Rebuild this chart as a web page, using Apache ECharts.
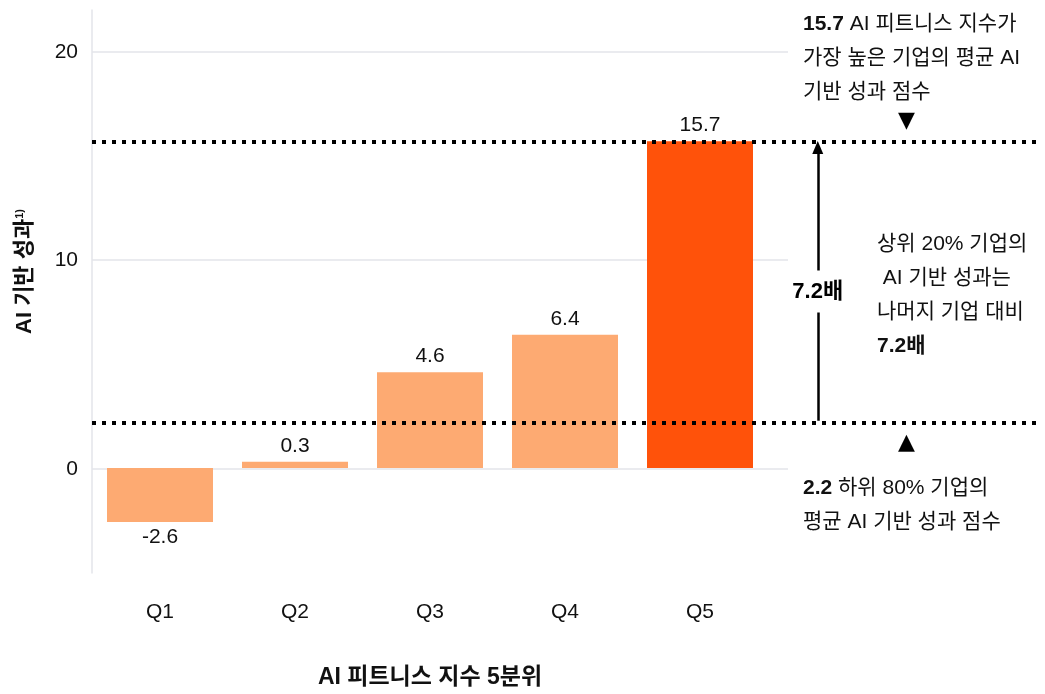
<!DOCTYPE html>
<html>
<head>
<meta charset="utf-8">
<script src="https://cdn.jsdelivr.net/npm/echarts@6/dist/echarts.min.js"></script>
<style>
  html, body { margin: 0; padding: 0; background: #fff; }
  #chart { width: 1045px; height: 694px; }
</style>
</head>
<body>
<div id="chart"></div>
<script>
// ---- data ----
const categories = ['Q1', 'Q2', 'Q3', 'Q4', 'Q5'];
const values = [-2.6, 0.3, 4.6, 6.4, 15.7];
const yTicks = [0, 10, 20];
const topAvg = 15.7;     // Q5 average
const bottomAvg = 2.2;   // Q1-Q4 average
const ratioText = '7.2배';
const xName = 'AI 피트니스 지수 5분위';
const yName = 'AI 기반 성과';

const FONT = "'Liberation Sans', 'Noto Sans CJK KR', sans-serif";
const Y_MIN = -5, Y_MAX = 22;
const GRID_TOP = 10, GRID_BOTTOM = 121;
const LIGHT = '#FDAA72', STRONG = '#FF520A';
const TXT = 21;

const chart = echarts.init(document.getElementById('chart'), null, { renderer: 'canvas' });

const yHidden = (idx) => ({
  type: 'value', gridIndex: idx, min: Y_MIN, max: Y_MAX,
  axisLine: { show: false }, axisTick: { show: false },
  axisLabel: { show: false }, splitLine: { show: false }
});

const richBold = { b: { fontWeight: 'bold', fontSize: TXT, fill: '#111', lineHeight: 34, fontFamily: FONT } };

const option = {
  backgroundColor: '#fff',
  animation: false,
  textStyle: { fontFamily: FONT },
  grid: [
    { left: 92, right: 257, top: GRID_TOP, bottom: GRID_BOTTOM },      // axis + gridlines
    { left: 92.5, right: 277.5, top: GRID_TOP, bottom: GRID_BOTTOM },  // bars
    { left: 92, right: 8, top: GRID_TOP, bottom: GRID_BOTTOM }         // reference lines
  ],
  xAxis: [
    { type: 'value', gridIndex: 0, min: 0, max: 1, show: false },
    {
      type: 'category', gridIndex: 1, data: categories,
      axisLine: { show: false }, axisTick: { show: false },
      axisLabel: { margin: 30, fontSize: 21, color: '#111', fontFamily: FONT },
      name: xName, nameLocation: 'middle', nameGap: 94,
      nameTextStyle: { fontSize: 23, fontWeight: 'bold', color: '#111', fontFamily: FONT }
    },
    { type: 'value', gridIndex: 2, min: 0, max: 1, show: false }
  ],
  yAxis: [
    {
      type: 'value', gridIndex: 0, min: Y_MIN, max: Y_MAX,
      axisLine: { show: true, lineStyle: { color: '#e3e5ea', width: 1.5 } },
      axisTick: { show: false, customValues: yTicks },
      axisLabel: { customValues: yTicks, margin: 14, fontSize: 21, color: '#111', fontFamily: FONT },
      splitLine: { show: true, lineStyle: { color: '#e3e5ea', width: 1.5 } },
      name: '{b|' + yName + '}{s|1)}', nameLocation: 'middle', nameGap: 56, nameRotate: 90,
      nameTextStyle: {
        padding: [0, 0, 0, 40],
        rich: {
          b: { fontSize: 22, fontWeight: 'bold', color: '#111', fontFamily: FONT },
          s: { fontSize: 11, fontWeight: 'bold', color: '#111', fontFamily: FONT, verticalAlign: 'top', padding: [0, 0, 10, 0] }
        }
      }
    },
    yHidden(1),
    yHidden(2)
  ],
  series: [
    {
      type: 'bar', xAxisIndex: 1, yAxisIndex: 1,
      barWidth: 106,
      data: values.map((v, i) => ({
        value: v,
        itemStyle: { color: i === values.length - 1 ? STRONG : LIGHT },
        label: { position: v < 0 ? 'bottom' : 'top' }
      })),
      label: { show: true, distance: 5, fontSize: 21, color: '#111', fontFamily: FONT,
        formatter: (p) => p.value.toFixed(1) },
      z: 2
    },
    {
      type: 'line', xAxisIndex: 2, yAxisIndex: 2, data: [], z: 5,
      markLine: {
        silent: true, symbol: ['none', 'none'], z: 5,
        label: { show: false },
        lineStyle: { color: '#000', width: 4, type: [4, 6], cap: 'butt' },
        data: [ { yAxis: topAvg }, { yAxis: bottomAvg } ]
      }
    },
    {
      type: 'line', xAxisIndex: 2, yAxisIndex: 2, data: [], z: 6,
      markLine: {
        silent: true, symbol: ['none', 'triangle'], symbolSize: [11, 13], z: 6,
        label: { show: false },
        lineStyle: { color: '#000', width: 2.5, type: 'solid' },
        data: [ [ { coord: [0.768, bottomAvg + 0.1] }, { coord: [0.768, topAvg - 0.3] } ] ]
      }
    },
    {
      type: 'scatter', xAxisIndex: 2, yAxisIndex: 2, symbolSize: 0, z: 7,
      itemStyle: { opacity: 1 },
      data: [[0.768, 8.5]],
      label: {
        show: true, position: 'inside', formatter: ratioText,
        fontSize: 22, fontWeight: 'bold', color: '#000', fontFamily: FONT,
        backgroundColor: '#fff', padding: [10, 4, 10, 4]
      }
    }
  ],
  graphic: [
    {
      type: 'text', left: 803, top: 7,
      style: {
        text: '{b|15.7} AI 피트니스 지수가\n가장 높은 기업의 평균 AI\n기반 성과 점수',
        font: TXT + 'px ' + FONT, fill: '#111', lineHeight: 34, rich: richBold
      }
    },
    { type: 'text', left: 898, top: 110, style: { text: '▼', font: '22px DejaVu Sans', fill: '#000' } },
    {
      type: 'text', left: 877, top: 227,
      style: {
        text: '상위 20% 기업의\n AI 기반 성과는\n나머지 기업 대비\n{b|7.2배}',
        font: TXT + 'px ' + FONT, fill: '#111', lineHeight: 34, rich: richBold
      }
    },
    { type: 'text', left: 898, top: 432, style: { text: '▲', font: '22px DejaVu Sans', fill: '#000' } },
    {
      type: 'text', left: 803, top: 471,
      style: {
        text: '{b|2.2} 하위 80% 기업의\n평균 AI 기반 성과 점수',
        font: TXT + 'px ' + FONT, fill: '#111', lineHeight: 34, rich: richBold
      }
    }
  ]
};
chart.setOption(option);
</script>
</body>
</html>
